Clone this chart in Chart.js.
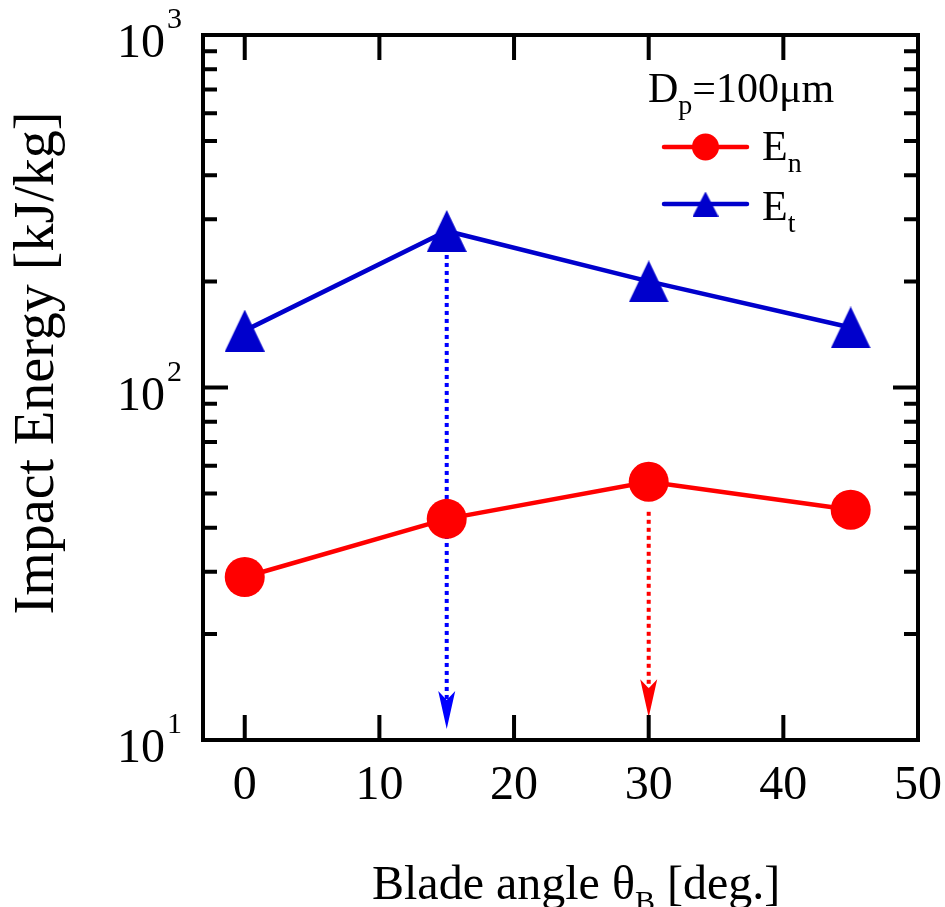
<!DOCTYPE html>
<html>
<head>
<meta charset="utf-8">
<script src="https://cdn.jsdelivr.net/npm/chart.js@4"></script>
<style>
  html, body { margin: 0; padding: 0; background: #fff; }
  #wrap { width: 945px; height: 907px; }
</style>
</head>
<body>
<div id="wrap"><canvas id="impactChart" width="945" height="907"></canvas></div>
<script>
// data
const bladeAngles = [0, 15, 30, 45];
const energyNormal = [29, 42.4, 54, 45];        // E_n
const energyTangential = [145, 278, 200, 148];  // E_t
const xTicks = [0, 10, 20, 30, 40, 50];
const yDecades = [10, 100, 1000];
const yExponents = ['1', '2', '3'];
const arrowAngles = [15, 30];
const arrowFrom = [278, 44.4];
const arrowTo = [10.75, 11.6];

const SERIF = '"Liberation Serif", "DejaVu Serif", serif';
const RED = '#ff0000';
const BLUE = '#0000cc';
const arrowColors = ['#0000ff', '#ff0000'];

function font(px) { return px + 'px ' + SERIF; }

function triangleImage(w, h, color) {
  const c = document.createElement('canvas');
  c.width = w;
  c.height = h;
  const g = c.getContext('2d');
  g.fillStyle = color;
  g.beginPath();
  g.moveTo(w / 2, 0);
  g.lineTo(w, h);
  g.lineTo(0, h);
  g.closePath();
  g.fill();
  return c;
}

// draw text pieces one after another: [text, size, dy]
function drawRuns(ctx, x, y, runs) {
  ctx.textAlign = 'left';
  ctx.textBaseline = 'alphabetic';
  runs.forEach(([t, size, dy]) => {
    ctx.font = font(size);
    ctx.fillText(t, x, y + dy);
    x += ctx.measureText(t).width;
  });
}

const bigTriangle = triangleImage(40, 42, BLUE);
const smallTriangle = triangleImage(26, 25, BLUE);

const arrowPlugin = {
  id: 'arrows',
  beforeDatasetsDraw(chart) {
    const { ctx, scales: { x, y } } = chart;
    arrowAngles.forEach((a, i) => {
      const px = x.getPixelForValue(a);
      const y0 = y.getPixelForValue(arrowFrom[i]);
      const tip = y.getPixelForValue(arrowTo[i]);
      ctx.save();
      ctx.strokeStyle = arrowColors[i];
      ctx.fillStyle = arrowColors[i];
      ctx.lineWidth = 4;
      ctx.setLineDash([4, 4]);
      ctx.beginPath();
      ctx.moveTo(px, y0);
      ctx.lineTo(px, tip - 29);
      ctx.stroke();
      ctx.setLineDash([]);
      ctx.beginPath();
      ctx.moveTo(px, tip);
      ctx.lineTo(px - 8.5, tip - 38);
      ctx.lineTo(px, tip - 29);
      ctx.lineTo(px + 8.5, tip - 38);
      ctx.closePath();
      ctx.fill();
      ctx.restore();
    });
  }
};

const framePlugin = {
  id: 'frame',
  afterDraw(chart) {
    const { ctx, chartArea: a, scales: { x, y } } = chart;
    ctx.save();
    ctx.strokeStyle = '#000';
    ctx.fillStyle = '#000';
    ctx.lineWidth = 4;
    ctx.strokeRect(a.left, a.top, a.right - a.left, a.bottom - a.top);

    ctx.beginPath();
    xTicks.forEach(v => {
      const px = x.getPixelForValue(v);
      ctx.moveTo(px, a.bottom); ctx.lineTo(px, a.bottom - 25);
      ctx.moveTo(px, a.top); ctx.lineTo(px, a.top + 25);
    });
    yDecades.forEach(d => {
      for (let m = 1; m <= 9; m++) {
        const v = d * m;
        if (v > 1000) break;
        const py = y.getPixelForValue(v);
        const len = m === 1 ? 25 : 14;
        ctx.moveTo(a.left, py); ctx.lineTo(a.left + len, py);
        ctx.moveTo(a.right, py); ctx.lineTo(a.right - len, py);
      }
    });
    ctx.stroke();

    // x tick labels
    ctx.font = font(48);
    ctx.textAlign = 'center';
    ctx.textBaseline = 'alphabetic';
    xTicks.forEach(v => ctx.fillText(String(v), x.getPixelForValue(v), a.bottom + 59));

    // y tick labels 10^n
    yDecades.forEach((d, i) => {
      const py = y.getPixelForValue(d);
      ctx.font = font(48);
      ctx.textAlign = 'right';
      ctx.fillText('10', 165, py + 22);
      ctx.font = font(30);
      ctx.textAlign = 'left';
      ctx.fillText(yExponents[i], 167, py - 7);
    });

    // axis titles
    drawRuns(ctx, 372, 899, [['Blade angle θ', 48, 0], ['B', 30, 12], [' [deg.]', 48, 0]]);
    ctx.save();
    ctx.translate(53, 363);
    ctx.rotate(-Math.PI / 2);
    ctx.font = font(56);
    ctx.textAlign = 'center';
    ctx.fillText('Impact Energy [kJ/kg]', 0, 0);
    ctx.restore();

    // legend
    drawRuns(ctx, 648, 102, [['D', 42, 0], ['p', 28, 12], ['=100μm', 42, 0]]);
    ctx.lineWidth = 4.5;
    ctx.lineCap = 'round';
    ctx.strokeStyle = RED;
    ctx.beginPath(); ctx.moveTo(664, 147); ctx.lineTo(747, 147); ctx.stroke();
    ctx.fillStyle = RED;
    ctx.beginPath(); ctx.arc(705.5, 147, 13.5, 0, Math.PI * 2); ctx.fill();
    ctx.strokeStyle = BLUE;
    ctx.beginPath(); ctx.moveTo(664, 204); ctx.lineTo(747, 204); ctx.stroke();
    ctx.drawImage(smallTriangle, 705.5 - 13, 204 - 12.5);
    ctx.fillStyle = '#000';
    drawRuns(ctx, 762, 160, [['E', 42, 0], ['n', 28, 12]]);
    drawRuns(ctx, 762, 220, [['E', 42, 0], ['t', 28, 12]]);
    ctx.restore();
  }
};

const toPoints = vals => bladeAngles.map((a, i) => ({ x: a, y: vals[i] }));

new Chart(document.getElementById('impactChart'), {
  type: 'line',
  data: {
    datasets: [
      {
        label: 'En',
        data: toPoints(energyNormal),
        borderColor: RED,
        backgroundColor: RED,
        borderWidth: 4.5,
        pointStyle: 'circle',
        pointRadius: 20,
        pointBorderWidth: 0,
        pointBackgroundColor: RED,
      },
      {
        label: 'Et',
        data: toPoints(energyTangential),
        borderColor: BLUE,
        backgroundColor: BLUE,
        borderWidth: 4.5,
        pointStyle: bigTriangle,
        pointRadius: 20,
        pointBorderWidth: 0,
      },
    ],
  },
  options: {
    responsive: false,
    animation: false,
    layout: { padding: { left: 203, right: 27, top: 35, bottom: 167 } },
    plugins: { legend: { display: false }, tooltip: { enabled: false } },
    scales: {
      x: { type: 'linear', min: -3.1, max: 50, display: false },
      y: { type: 'logarithmic', min: 10, max: 1000, display: false },
    },
  },
  plugins: [arrowPlugin, framePlugin],
});
</script>
</body>
</html>
